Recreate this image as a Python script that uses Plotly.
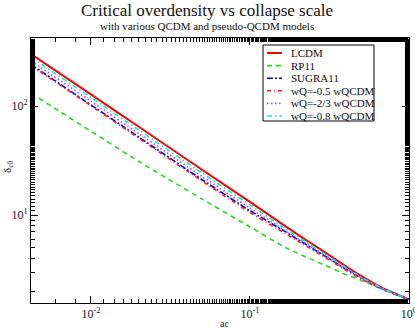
import plotly.graph_objects as go

# scale factor a_c
a_main = [0.0042, 0.01, 0.02, 0.05, 0.1, 0.166, 0.2, 0.3, 0.4, 0.5, 0.7, 1.0]
a_rp11 = [0.0047, 0.01, 0.02, 0.05, 0.1, 0.166, 0.2, 0.275, 0.4, 0.5, 0.7, 1.0]

lcdm = [300, 128, 64.5, 26.0, 13.2, 7.95, 6.62, 4.5, 3.4, 2.76, 2.1, 1.69]
rp11 = [118, 58.7, 31.0, 14.0, 7.8, 5.06, 4.45, 3.63, 2.85, 2.52, 2.05, 1.68]
sugra11 = [240, 102.4, 51.9, 21.1, 10.96, 7.08, 5.96, 4.16, 3.20, 2.64, 2.06, 1.69]
wq05 = [235.5, 100.5, 50.6, 20.5, 10.56, 6.80, 5.76, 4.05, 3.13, 2.59, 2.05, 1.68]
wq067 = [259, 110.7, 55.8, 22.6, 11.6, 7.23, 6.09, 4.23, 3.24, 2.66, 2.07, 1.69]
wq08 = [280, 120, 60.3, 24.3, 12.4, 7.55, 6.31, 4.34, 3.30, 2.70, 2.08, 1.69]

series_names = ["LCDM", "RP11", "SUGRA11", "wQ=-0.5 wQCDM", "wQ=-2/3 wQCDM", "wQ=-0.8 wQCDM"]

x_tickvals = [0.01, 0.1, 1]
x_ticktext = ["10<sup>-2</sup>", "10<sup>-1</sup>", "10<sup>0</sup>"]
y_tickvals = [10, 100]
y_ticktext = ["10<sup>1</sup>", "10<sup>2</sup>"]

FONT = "Liberation Serif"

W, H = 415, 329
ML, MR, MT, MB = 31, 6, 38, 26
PW, PH = W - ML - MR, H - MT - MB


def px_x(px):
    return (px - ML) / PW


def px_y(py):
    return (H - MB - py) / PH


fig = go.Figure()
styles = [
    ("#ff0000", "solid", 2.0),
    ("#22dd22", "5px,4px", 1.6),
    ("#0000ff", "6px,2px,2px,2px", 1.6),
    ("#ff2020", "4px,3px,1px,3px", 1.6),
    ("#a64dff", "1.5px,2.5px", 1.6),
    ("#00eeee", "5px,3px,1.5px,3px", 1.6),
]
data = [(a_main, lcdm), (a_rp11, rp11), (a_main, sugra11), (a_main, wq05), (a_main, wq067), (a_main, wq08)]
for name, (xs, ys), (col, dash, w) in zip(series_names, data, styles):
    fig.add_trace(go.Scatter(x=xs, y=ys, mode="lines", name=name, showlegend=False,
                             line=dict(color=col, width=w, dash=dash, shape="spline", smoothing=0.5)))

fig.update_xaxes(type="log", range=[-2.377, 0.0008], showgrid=False, zeroline=False, automargin=False,
                 showline=True, linecolor="black", linewidth=1, mirror="ticks",
                 ticks="inside", ticklen=7, tickcolor="black",
                 tickvals=x_tickvals, ticktext=x_ticktext, ticklabeloverflow="allow",
                 tickfont=dict(family=FONT, size=12, color="#222"),
                 minor=dict(ticks="inside", ticklen=4, tickcolor="black", showgrid=False))
fig.update_yaxes(type="log", range=[0.193, 2.624], showgrid=False, zeroline=False, automargin=False,
                 showline=True, linecolor="black", linewidth=1, mirror="ticks",
                 ticks="inside", ticklen=7, tickcolor="black",
                 tickvals=y_tickvals, ticktext=y_ticktext, ticklabeloverflow="allow",
                 tickfont=dict(family=FONT, size=12, color="#222"),
                 minor=dict(ticks="inside", ticklen=4, tickcolor="black", showgrid=False))

# titles
fig.add_annotation(text="Critical overdensity vs collapse scale", xref="paper", yref="paper",
                   x=px_x(207), y=px_y(10), xanchor="center", yanchor="middle", showarrow=False,
                   font=dict(family=FONT, size=17, color="#111"))
fig.add_annotation(text="with various QCDM and pseudo-QCDM models", xref="paper", yref="paper",
                   x=px_x(207), y=px_y(26), xanchor="center", yanchor="middle", showarrow=False,
                   font=dict(family=FONT, size=11, color="#111"))
fig.add_annotation(text="ac", xref="paper", yref="paper",
                   x=px_x(224), y=px_y(323), xanchor="center", yanchor="middle", showarrow=False,
                   font=dict(family=FONT, size=10, color="#222"))
fig.add_annotation(text="δ<sub>c0</sub>", xref="paper", yref="paper", textangle=-90,
                   x=px_x(8), y=px_y(167), xanchor="center", yanchor="middle", showarrow=False,
                   font=dict(family=FONT, size=11, color="#222"))

# manual legend box
fig.add_shape(type="rect", xref="paper", yref="paper",
              x0=px_x(263), x1=px_x(374), y0=px_y(45), y1=px_y(121),
              line=dict(color="black", width=1), fillcolor="white", layer="above")
for i, (name, (col, dash, w)) in enumerate(zip(series_names, styles)):
    yy = 53 + 12.6 * i
    fig.add_shape(type="line", xref="paper", yref="paper",
                  x0=px_x(267), x1=px_x(282), y0=px_y(yy), y1=px_y(yy),
                  line=dict(color=col, width=w, dash=dash), layer="above")
    fig.add_annotation(text=name, xref="paper", yref="paper",
                       x=px_x(289), y=px_y(yy), xanchor="left", yanchor="middle", showarrow=False,
                       font=dict(family=FONT, size=11, color="#111"))

fig.update_layout(
    width=W, height=H,
    margin=dict(l=ML, r=MR, t=MT, b=MB),
    paper_bgcolor="white", plot_bgcolor="white",
    showlegend=False,
)

fig.write_html("out.html", config={"displayModeBar": False},
               post_script="document.body.style.margin='0';document.body.style.overflow='hidden';")
